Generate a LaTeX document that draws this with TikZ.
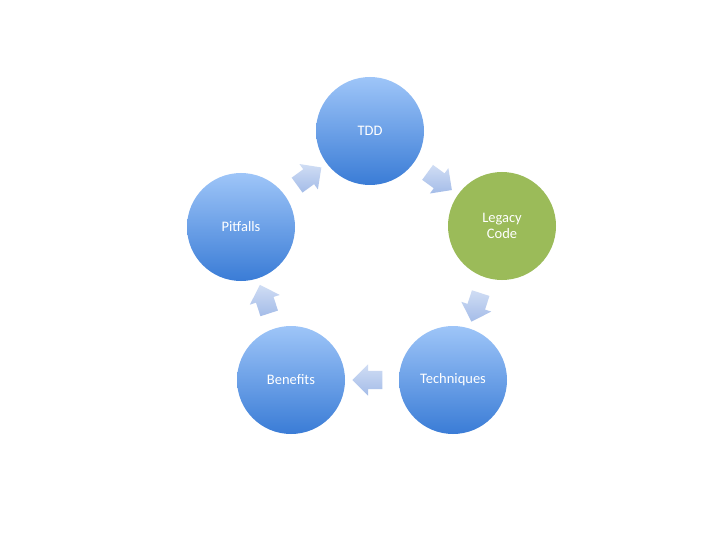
\documentclass[tikz,border=0pt]{standalone}
\usepackage{fontspec}
\setmainfont{Carlito}
\usetikzlibrary{shapes.arrows,calc}
\definecolor{bluetop}{HTML}{9EC5F8}
\definecolor{bluebot}{HTML}{3A7CD6}
\definecolor{legacygreen}{HTML}{9BBB59}
\definecolor{arrtop}{HTML}{D0DDF4}
\definecolor{arrbot}{HTML}{A4BCE8}
\tikzset{
  bluecircle/.style={circle, minimum size=108pt, inner sep=0pt,
    top color=bluetop, bottom color=bluebot, draw=none,
    text=white, font=\fontsize{14.5pt}{16pt}\selectfont, align=center},
  greencircle/.style={circle, minimum size=108pt, inner sep=0pt,
    fill=legacygreen, draw=none,
    text=white, font=\fontsize{14.5pt}{16pt}\selectfont, align=center},
  cyclearrow/.style={single arrow, draw=none, minimum height=30pt,
    inner xsep=0pt, inner ysep=9pt, single arrow head extend=6.5pt,
    top color=arrtop, bottom color=arrbot}
}
\begin{document}
\begin{tikzpicture}[x=1pt,y=-1pt]
\useasboundingbox[fill=white] (0,0) rectangle (720,540);
\node[bluecircle] (tdd) at (370,131) {TDD};
\node[greencircle] (legacy) at (502,226) {Legacy\\Code};
\node[bluecircle] (tech) at (453,380) {Techniques};
\node[bluecircle] (ben) at (291,380) {Benefits};
\node[bluecircle] (pit) at (241,227) {Pitfalls};
\node[cyclearrow, rotate=-36] (a1) at ($(tdd)!0.5!(legacy)$) {};
\node[cyclearrow, rotate=-108] (a2) at ($(legacy)!0.5!(tech)$) {};
\node[cyclearrow, rotate=180] (a3) at ($(tech)!0.5!(ben)$) {};
\node[cyclearrow, rotate=108] (a4) at ($(ben)!0.5!(pit)$) {};
\node[cyclearrow, rotate=36] (a5) at ($(pit)!0.5!(tdd)$) {};
\end{tikzpicture}
\end{document}
